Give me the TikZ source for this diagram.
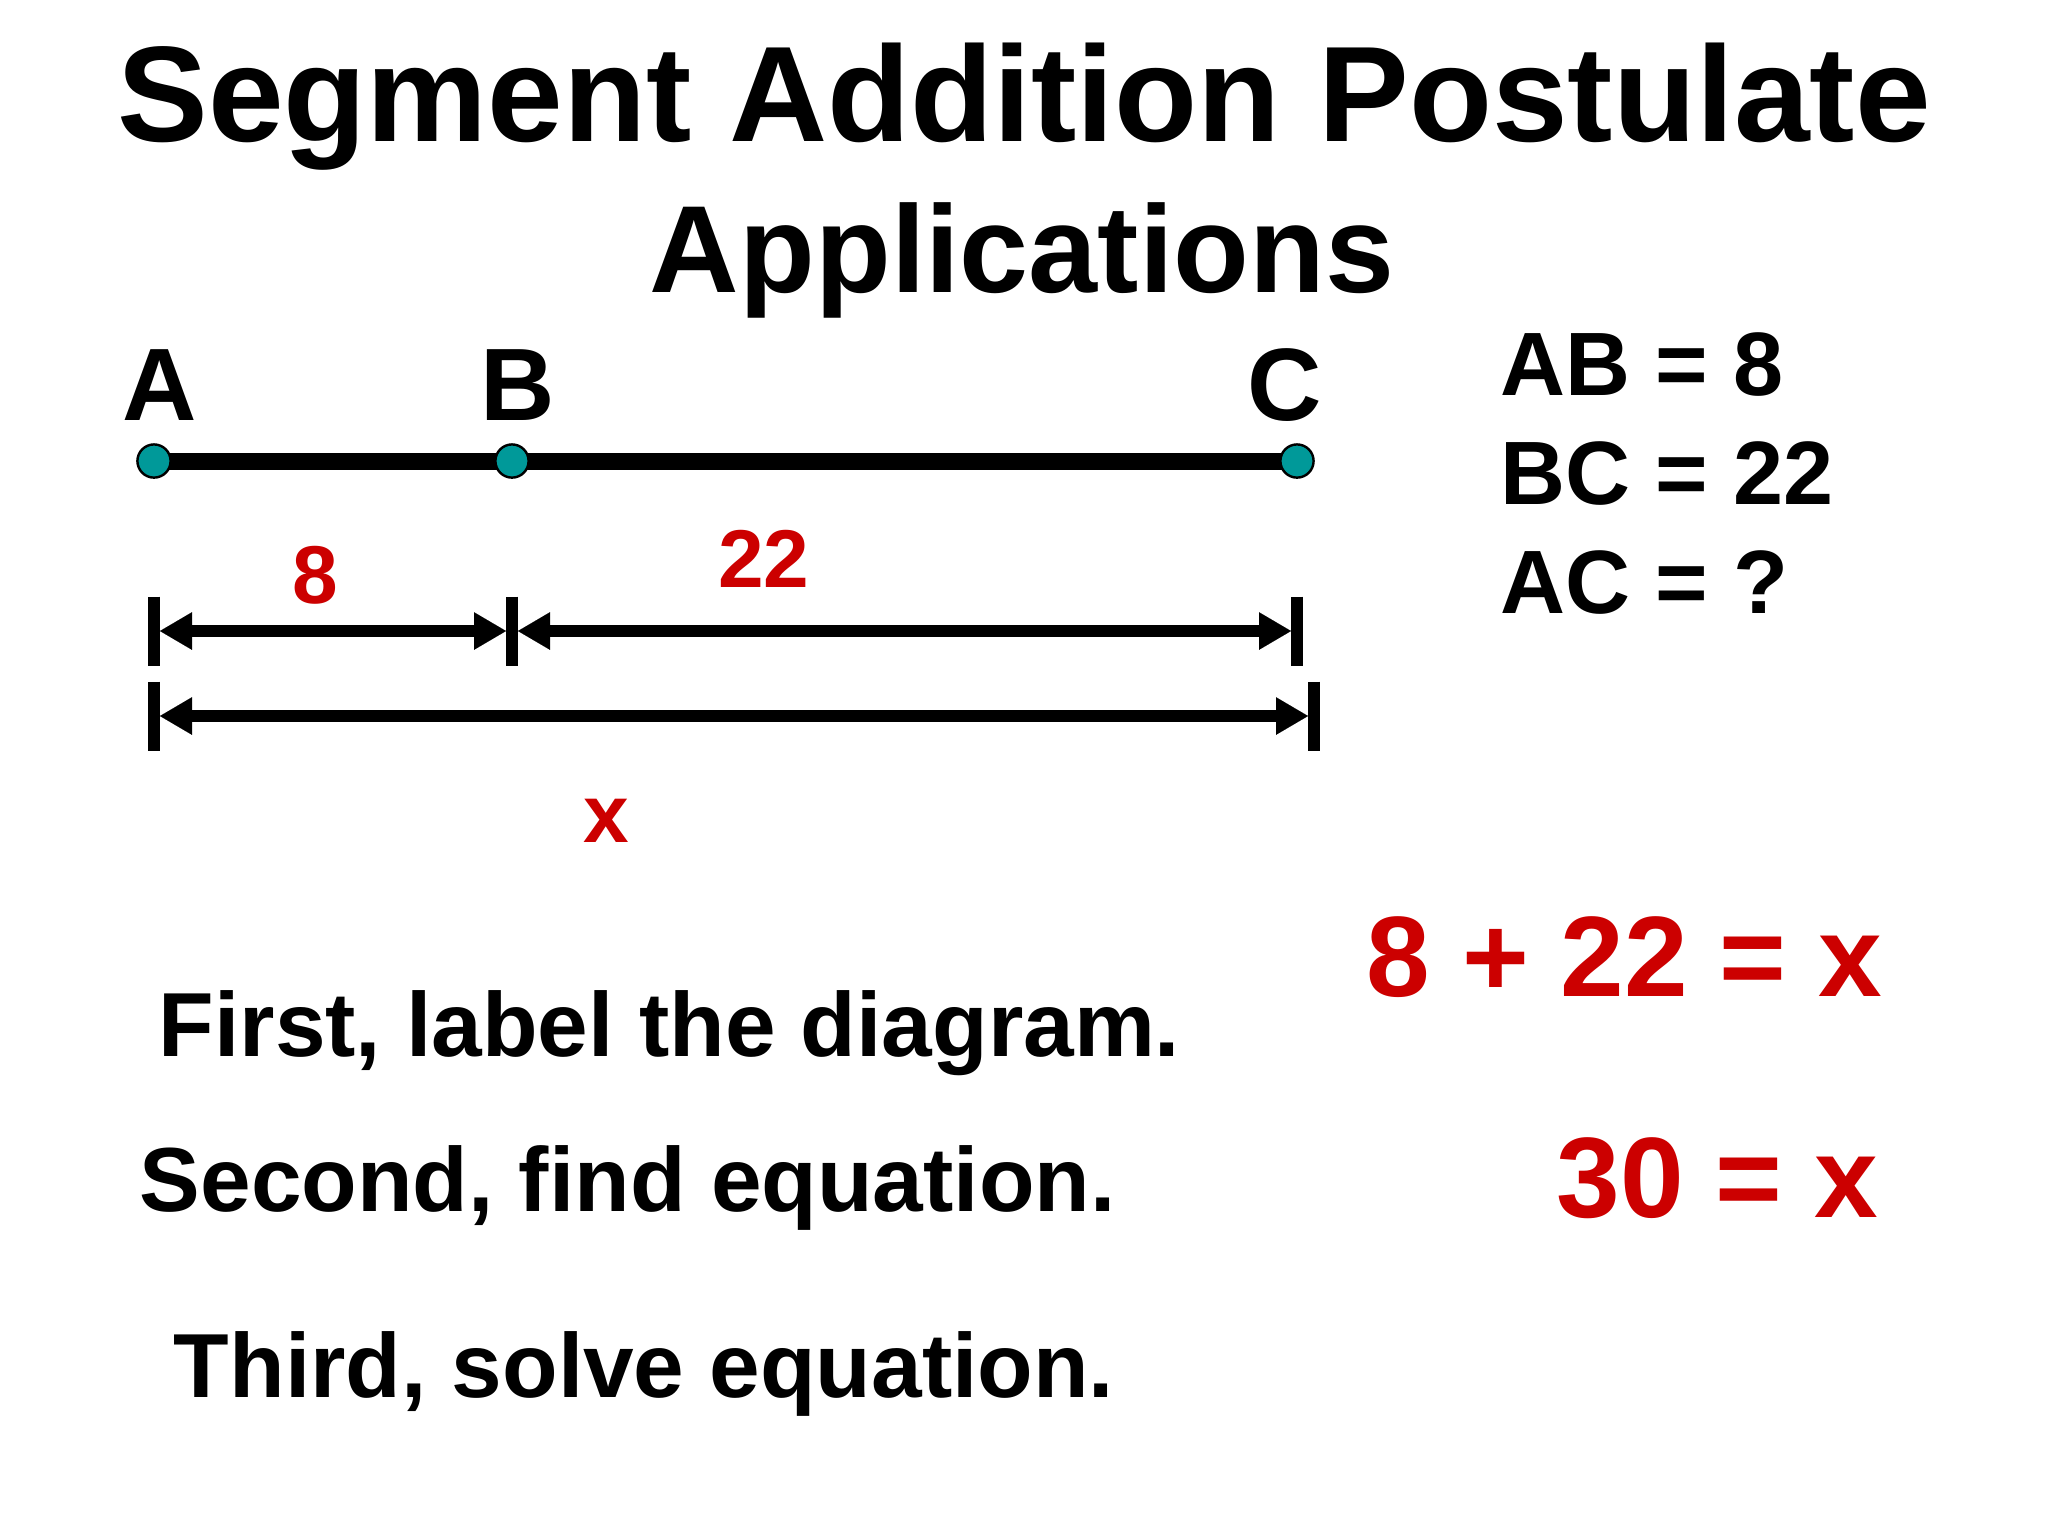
\documentclass[tikz,border=0pt]{standalone}
\usepackage{fontspec}
\setmainfont{Liberation Sans}
\usetikzlibrary{arrows.meta}
\definecolor{dotteal}{RGB}{0,153,153}
\definecolor{ansred}{RGB}{204,0,0}
\tikzset{
 titletxt/.style={inner sep=0pt,anchor=base,font=\bfseries\fontsize{34pt}{40pt}\selectfont},
 subtitletxt/.style={inner sep=0pt,anchor=base,font=\bfseries\fontsize{31pt}{37pt}\selectfont},
 ptlabel/.style={inner sep=0pt,anchor=base,font=\bfseries\fontsize{25.75pt}{30pt}\selectfont},
 giventxt/.style={inner sep=0pt,anchor=base west,font=\bfseries\fontsize{22.5pt}{27pt}\selectfont},
 measure/.style={inner sep=0pt,anchor=base,text=ansred,font=\bfseries\fontsize{20.5pt}{24pt}\selectfont},
 eqn/.style={inner sep=0pt,anchor=base east,text=ansred,font=\bfseries\fontsize{28.6pt}{34pt}\selectfont},
 steptxt/.style={inner sep=0pt,anchor=base west,font=\bfseries\fontsize{22.75pt}{27pt}\selectfont},
 dot/.style={circle,fill=dotteal,draw=black,line width=0.6pt,minimum size=8.3pt,inner sep=0pt},
 segline/.style={line width=4.25pt},
 dimline/.style={line width=3pt,>={Triangle[length=8pt,width=9.4pt,line width=0.01pt]},<->,shorten <=1.5pt,shorten >=1.5pt},
 tickmark/.style={line width=3pt},
}
\begin{document}
\begin{tikzpicture}[x=0.25pt,y=-0.25pt]
\useasboundingbox[fill=white] (0,0) rectangle (2048,1536);
% titles
\node[titletxt] (t1) at (1024,141) {Segment Addition Postulate};
\node[subtitletxt] (t2) at (1022,292) {Applications};
% point labels
\node[ptlabel] (lA) at (160,420) {A};
\node[ptlabel] (lB) at (518,420) {B};
\node[ptlabel] (lC) at (1285,420) {C};
% segment
\coordinate (pA) at (154,461);
\coordinate (pB) at (512,461);
\coordinate (pC) at (1297,461);
\draw[segline] (pA) -- (pC);
\node[dot] (A) at (pA) {};
\node[dot] (B) at (pB) {};
\node[dot] (C) at (pC) {};
% dimension ticks
\coordinate (a1) at (154,631);
\coordinate (b1) at (512,631);
\coordinate (c1) at (1297,631);
\coordinate (a2) at (154,716);
\coordinate (c2) at (1314,716);
\foreach \p in {a1,b1,c1,a2,c2}{
  \draw[tickmark] (\p) ++(0,-34.5) -- ++(0,69);
}
\draw[dimline] (a1) -- (b1);
\draw[dimline] (b1) -- (c1);
\draw[dimline] (a2) -- (c2);
% measures
\node[measure] (m8) at (315,603) {8};
\node[measure] (m22) at (764,587) {22};
\node[measure] (mx) at (606,842) {x};
% givens
\node[giventxt] (g1) at (1500,395) {AB = 8};
\node[giventxt] (g2) at (1500,504) {BC = 22};
\node[giventxt] (g3) at (1500,613) {AC = ?};
% equations
\node[eqn] (e1) at (1883,996) {8 + 22 = x};
\node[eqn] (e2) at (1879,1217) {30 = x};
% steps
\node[steptxt] (s1) at (158,1056) {First, label the diagram.};
\node[steptxt] (s2) at (139,1211) {Second, find equation.};
\node[steptxt] (s3) at (173,1397) {Third, solve equation.};
\end{tikzpicture}
\end{document}
